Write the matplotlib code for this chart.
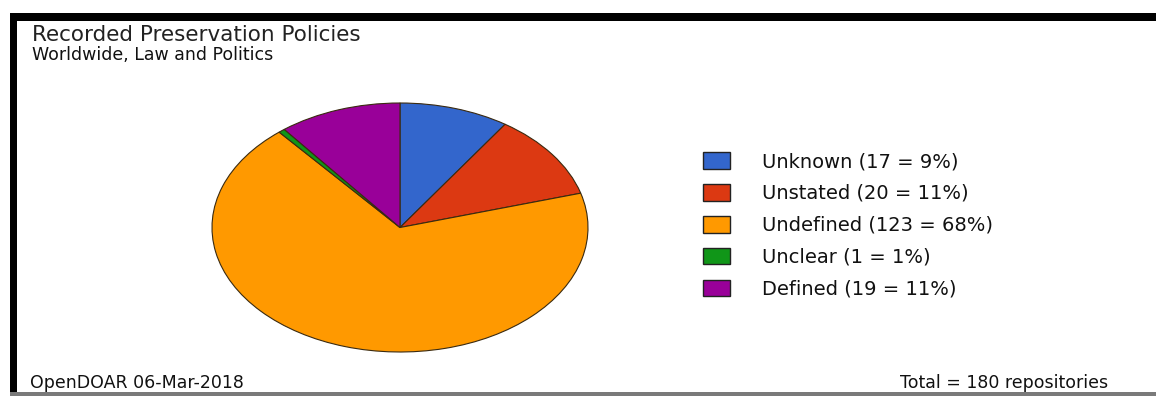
import matplotlib.pyplot as plt
from matplotlib.patches import Rectangle

# ── data ────────────────────────────────────────────────
labels = ["Unknown", "Unstated", "Undefined", "Unclear", "Defined"]
counts = [17, 20, 123, 1, 19]
pcts = [9, 11, 68, 1, 11]
colors = ["#3366cc", "#dc3912", "#ff9900", "#109618", "#990099"]
total = 180

W, H = 1156, 396
plt.rcParams["font.family"] = ["DejaVu Sans"]
fig = plt.figure(figsize=(W / 100, H / 100), dpi=100)
fig.patch.set_facecolor("white")


def fx(px):
    return px / W


def fy(py):
    return 1 - py / H


# frame: thick black top/left bars, thin grey bottom line
fig.add_artist(Rectangle((fx(10), fy(21)), 1 - fx(10), 8 / H,
                         transform=fig.transFigure, color="black", lw=0))
fig.add_artist(Rectangle((fx(10), 0), 7 / W, fy(13),
                         transform=fig.transFigure, color="black", lw=0))
fig.add_artist(Rectangle((fx(10), 0), 1 - fx(10), 4 / H,
                         transform=fig.transFigure, color="#7a7a7a", lw=0))

# ── pie (elliptical) ────────────────────────────────────
ax = fig.add_axes([fx(212), fy(352), fx(588) - fx(212), (352 - 103) / H])
wedges, _ = ax.pie(counts, colors=colors, startangle=90, counterclock=False,
                   radius=1.0,
                   wedgeprops=dict(edgecolor="#3a2a10", linewidth=0.8))
ax.set_aspect("auto")
ax.set_xlim(-1.0, 1.0)
ax.set_ylim(-1.0, 1.0)
ax.axis("off")

# ── legend ──────────────────────────────────────────────
leg_labels = [f"{l} ({c} = {p}%)" for l, c, p in zip(labels, counts, pcts)]
leg = fig.legend(wedges, leg_labels, loc="upper left",
                 bbox_to_anchor=(fx(703), fy(152)), frameon=False,
                 fontsize=14, handlelength=1.4, handleheight=0.95,
                 handletextpad=1.65, labelspacing=0.66, borderpad=0,
                 borderaxespad=0)
for h in leg.legend_handles:
    h.set_edgecolor("#222222")
    h.set_linewidth(1.0)
for t in leg.get_texts():
    t.set_color("#111111")

# ── texts ───────────────────────────────────────────────
fig.text(fx(32), fy(25), "Recorded Preservation Policies", fontsize=15.5,
         color="#222222", va="top", ha="left")
fig.text(fx(32), fy(46), "Worldwide, Law and Politics", fontsize=12.5,
         color="#111111", va="top", ha="left")
fig.text(fx(30), fy(383), "OpenDOAR 06-Mar-2018", fontsize=12.5,
         color="#111111", va="center", ha="left")
fig.text(fx(1108), fy(383), f"Total = {total} repositories", fontsize=12.5,
         color="#111111", va="center", ha="right")

fig.savefig("out.png", dpi=100, facecolor=fig.get_facecolor())
